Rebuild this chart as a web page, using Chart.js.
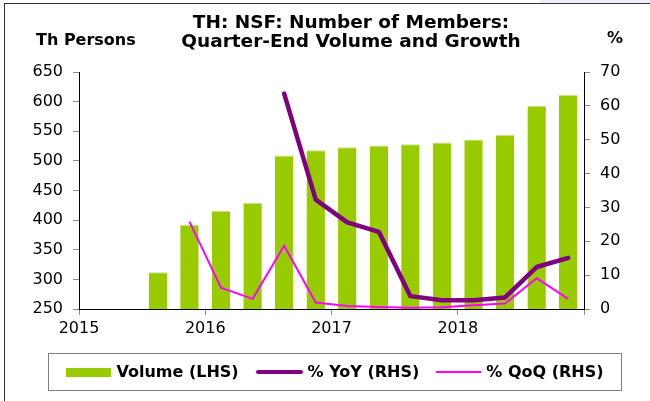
<!DOCTYPE html>
<html>
<head>
<meta charset="utf-8">
<script src="https://cdn.jsdelivr.net/npm/chart.js@4/dist/chart.umd.min.js"></script>
<style>
  html, body { margin: 0; padding: 0; background: #fff; width: 650px; height: 401px; overflow: hidden; }
  body { position: relative; font-family: 'DejaVu Sans', sans-serif; color: #000; }
  #strip { position: absolute; left: 540px; top: 0; width: 110px; height: 3px; background: #eceef8; }
  #frame { position: absolute; left: 4px; top: 3px; right: -5px; bottom: -5px; border-left: 1px solid #333; border-top: 1px solid #333; }
  #chart { position: absolute; left: 0; top: 0; }
  .lbl { position: absolute; font-weight: bold; white-space: nowrap; }
  #title { left: 151px; width: 400px; top: 12px; text-align: center; font-size: 18.5px; line-height: 19.4px; }
  #lhs { left: 36px; top: 32px; font-size: 16px; line-height: 16px; }
  #rhs { left: 607px; top: 30px; font-size: 16px; line-height: 16px; }
  #legend { position: absolute; left: 48px; top: 353px; width: 572px; height: 36px; border: 1px solid #808080;
            display: flex; align-items: center; justify-content: center; gap: 17px; }
  .item { display: flex; align-items: center; font-weight: bold; font-size: 16px; line-height: 16px; }
  .sw { margin-right: 5px; }
</style>
</head>
<body>
<div id="strip"></div>
<div id="frame"></div>
<canvas id="chart" width="650" height="401"></canvas>
<div class="lbl" id="title">TH: NSF: Number of Members:<br>Quarter-End Volume and Growth</div>
<div class="lbl" id="lhs">Th Persons</div>
<div class="lbl" id="rhs">%</div>
<div id="legend"></div>
<script>
/* ===== TH NSF members: volume (LHS) and growth (RHS) ===== */

const quarters = ['2015Q1', '2015Q2', '2015Q3', '2015Q4',
                  '2016Q1', '2016Q2', '2016Q3', '2016Q4',
                  '2017Q1', '2017Q2', '2017Q3', '2017Q4',
                  '2018Q1', '2018Q2', '2018Q3', '2018Q4'];
const yearLabels = ['2015', '2016', '2017', '2018'];

// Th persons, quarter-end
const volume = [null, null, 312, 392, 416, 429, 509, 518, 523, 526, 528, 531, 536, 544, 593, 611];
// % YoY
const yoy = [null, null, null, null, null, null, 63.6, 32.3, 25.6, 22.8, 3.8, 2.6, 2.6, 3.4, 12.4, 15.1];
// % QoQ
const qoq = [null, null, null, 25.8, 6.3, 3.0, 18.7, 1.9, 0.9, 0.6, 0.4, 0.5, 1.1, 1.6, 9.1, 3.0];

const leftTicks  = { min: 250, max: 650, step: 50 };
const rightTicks = { min: 0, max: 70, step: 10 };

const COLORS = { bar: '#99cc00', barEdge: '#c9e67a', yoy: '#800080', qoq: '#ff00ff' };
const FONT = { family: "'DejaVu Sans', sans-serif", size: 16 };

const tickGrid = { drawOnChartArea: false, drawTicks: true, tickLength: 6, color: '#8c8c8c', offset: false };
const axisBorder = { display: true, color: '#000', width: 1 };

const ctx = document.getElementById('chart').getContext('2d');
const chart = new Chart(ctx, {
  type: 'bar',
  data: {
    labels: quarters,
    datasets: [
      {
        type: 'line', label: '% YoY (RHS)', data: yoy, yAxisID: 'y2', xAxisID: 'x',
        borderColor: COLORS.yoy, backgroundColor: COLORS.yoy, borderWidth: 4.5,
        borderCapStyle: 'round', borderJoinStyle: 'round',
        pointRadius: 0, tension: 0, order: 1, swW: 47, swH: 4
      },
      {
        type: 'line', label: '% QoQ (RHS)', data: qoq, yAxisID: 'y2', xAxisID: 'x',
        borderColor: COLORS.qoq, backgroundColor: COLORS.qoq, borderWidth: 2,
        pointRadius: 0, tension: 0, order: 2, swW: 45, swH: 2
      },
      {
        type: 'bar', label: 'Volume (LHS)', data: volume, yAxisID: 'y', xAxisID: 'x',
        backgroundColor: COLORS.bar, borderColor: COLORS.barEdge,
        borderWidth: { top: 1, left: 0, right: 0, bottom: 0 },
        barPercentage: 0.585, categoryPercentage: 1.0, order: 3, swW: 45, swH: 9
      }
    ]
  },
  options: {
    responsive: false,
    animation: false,
    layout: { padding: { top: 72, left: 0, right: 0, bottom: 0 } },
    plugins: { legend: { display: false }, tooltip: { enabled: false }, title: { display: false } },
    scales: {
      x: { type: 'category', display: false, offset: true },
      x2: {
        type: 'linear', position: 'bottom', min: 0, max: quarters.length, offset: false,
        grid: tickGrid, border: axisBorder,
        ticks: {
          stepSize: 4, maxRotation: 0, autoSkip: false, padding: 4,
          font: FONT, color: '#000',
          callback: v => yearLabels[v / 4] || ''
        },
        afterFit: s => { s.height = 92; }
      },
      y: {
        position: 'left', min: leftTicks.min, max: leftTicks.max,
        grid: tickGrid, border: axisBorder,
        ticks: { stepSize: leftTicks.step, padding: 10, font: FONT, color: '#000' },
        afterFit: s => { s.width = 79; }
      },
      y2: {
        position: 'right', min: rightTicks.min, max: rightTicks.max,
        grid: tickGrid, border: axisBorder,
        ticks: { stepSize: rightTicks.step, padding: 10, font: FONT, color: '#000' },
        afterFit: s => { s.width = 66; }
      }
    }
  }
});

// Legend box built from the datasets (bar first, then the two lines)
const legendEl = document.getElementById('legend');
[2, 0, 1].forEach(i => {
  const ds = chart.data.datasets[i];
  const item = document.createElement('div');
  item.className = 'item';
  const sw = document.createElement('span');
  sw.className = 'sw';
  sw.style.cssText = `display:inline-block;width:${ds.swW}px;height:${ds.swH}px;background:${ds.type === 'bar' ? ds.backgroundColor : ds.borderColor};` +
                     (ds.type === 'line' && ds.swH > 2 ? 'border-radius:2px;' : '');
  const txt = document.createElement('span');
  txt.textContent = ds.label;
  item.appendChild(sw);
  item.appendChild(txt);
  legendEl.appendChild(item);
});
</script>
</body>
</html>
